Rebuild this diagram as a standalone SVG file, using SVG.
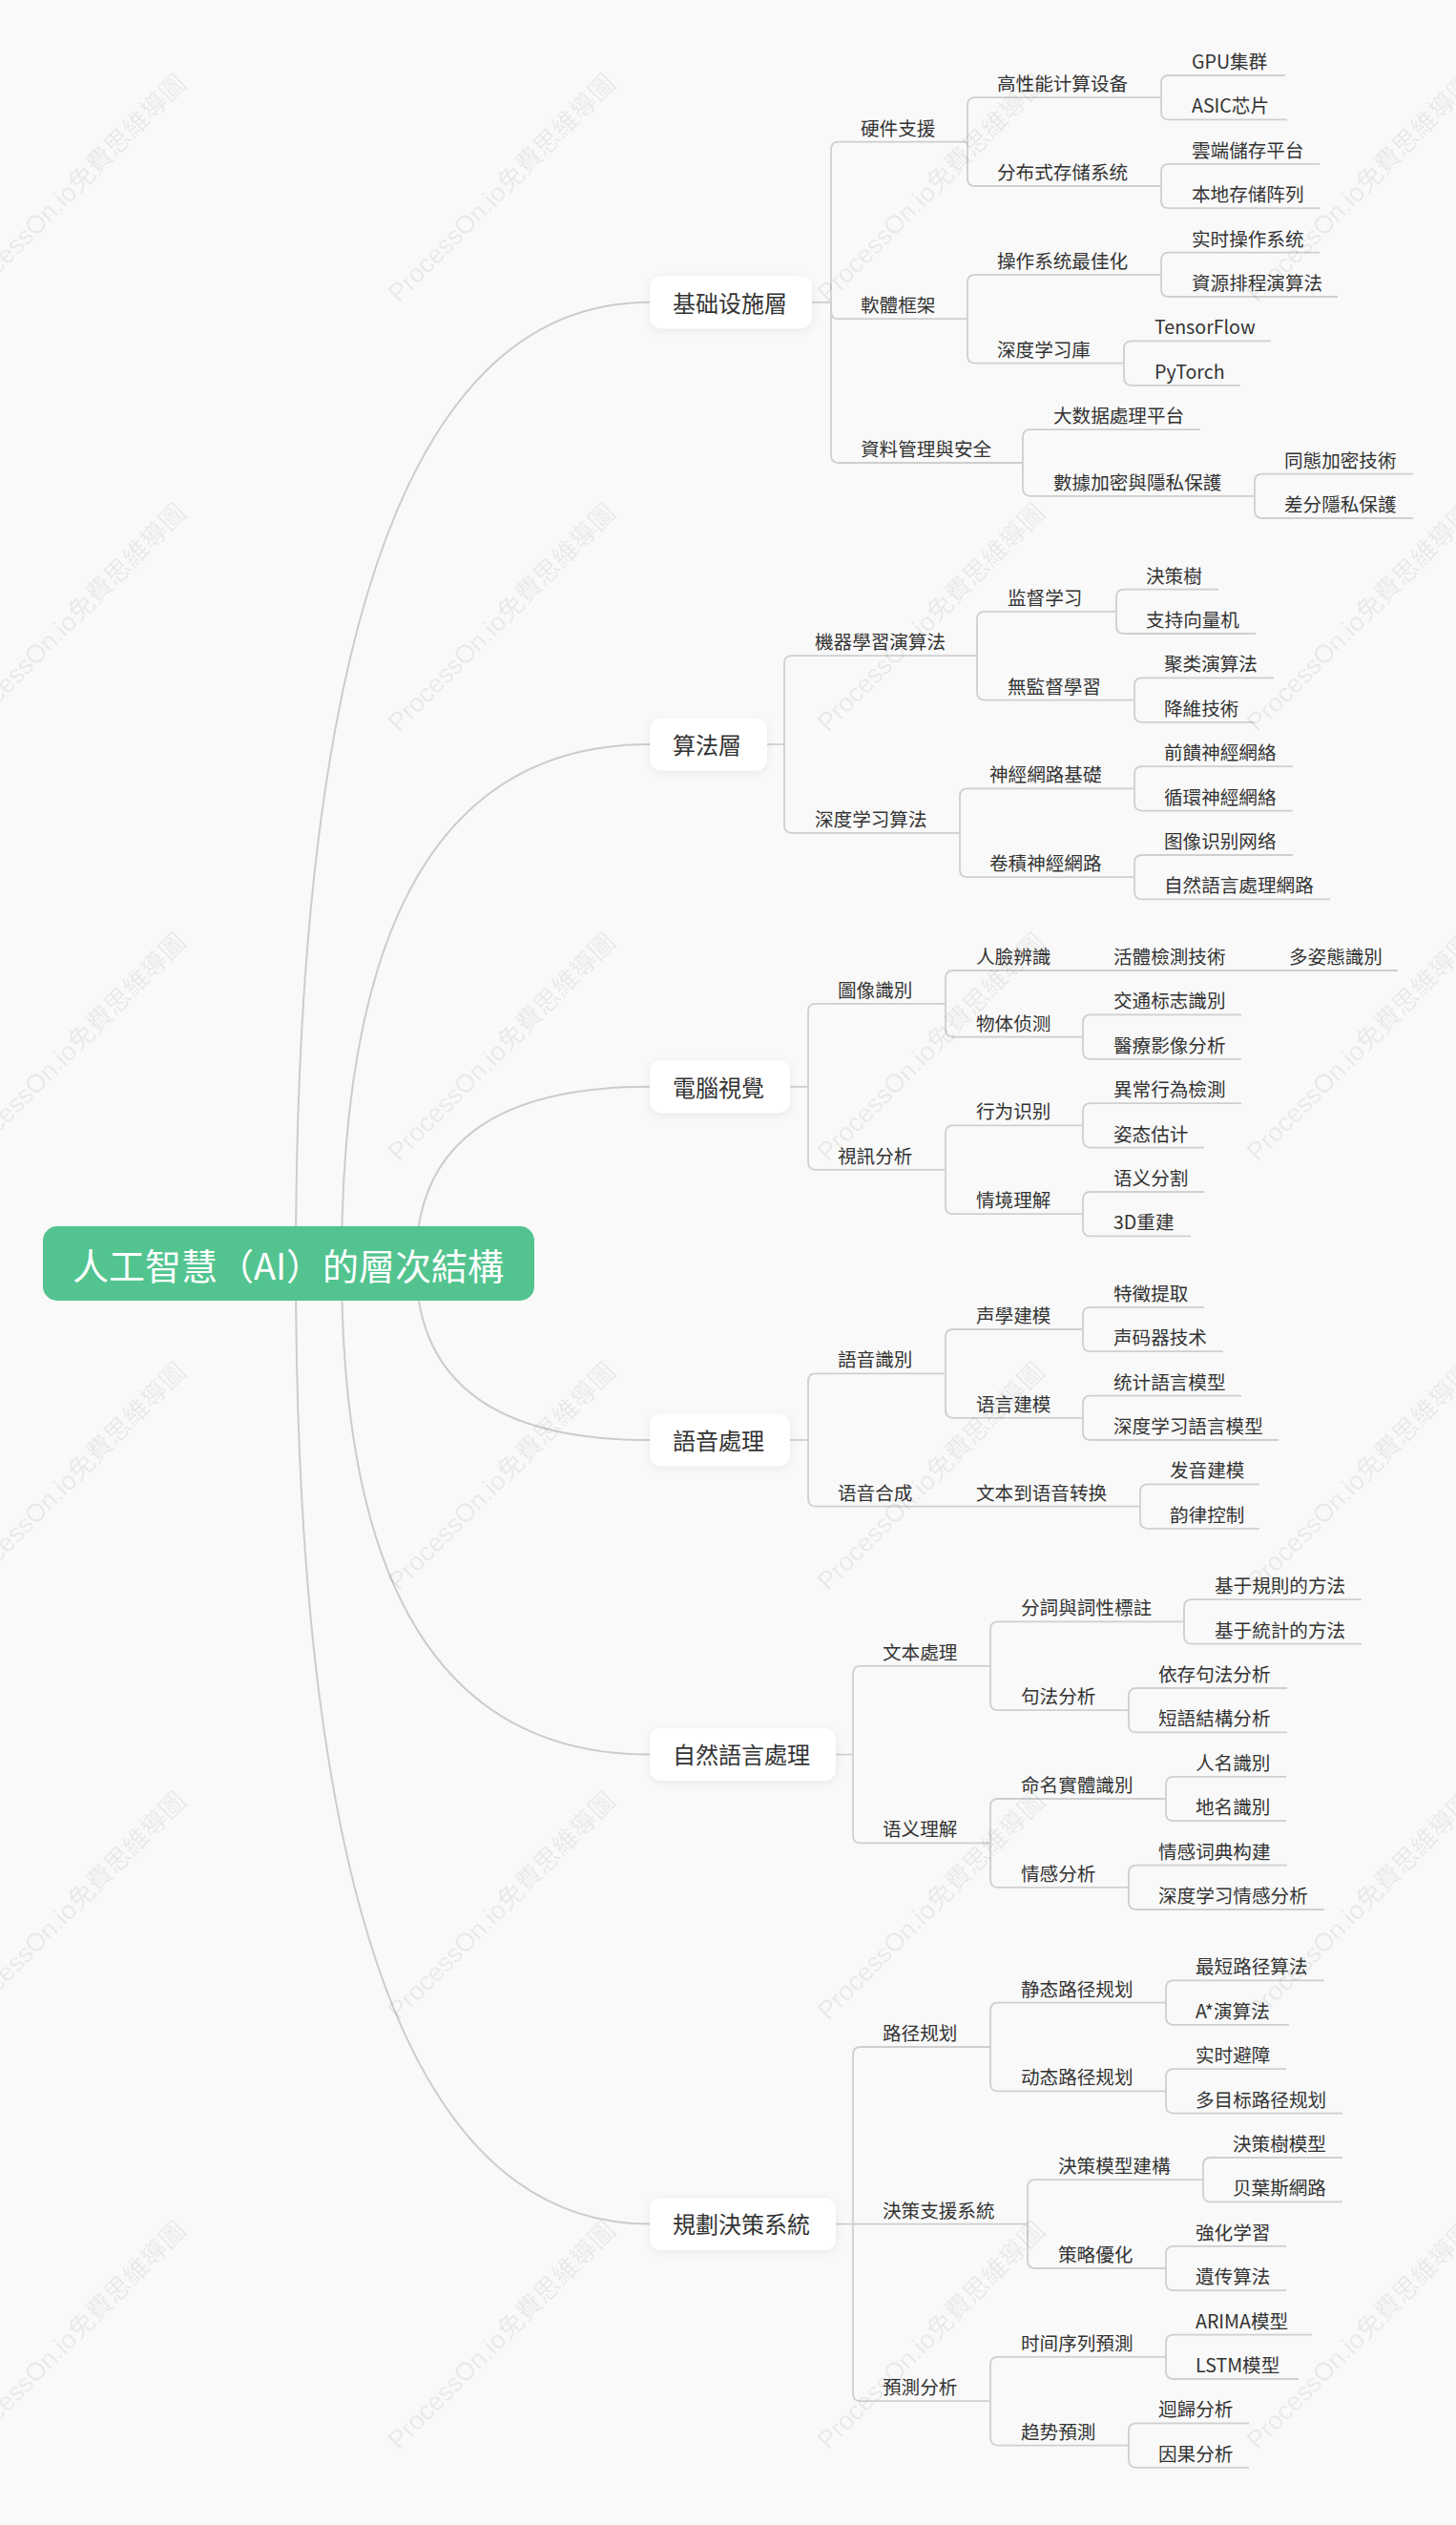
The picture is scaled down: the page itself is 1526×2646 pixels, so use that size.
<svg xmlns="http://www.w3.org/2000/svg" width="1526" height="2646" viewBox="0 0 1526 2646">
<defs>
<style>
.t{font-family:"Noto Sans CJK SC","Noto Sans CJK TC",sans-serif;font-size:19.6px;fill:#333}
.l1{font-family:"Noto Sans CJK SC","Noto Sans CJK TC",sans-serif;font-size:24px;fill:#333}
.rt{font-family:"Noto Sans CJK SC","Noto Sans CJK TC",sans-serif;font-size:38px;fill:#fff}
.c{fill:none;stroke:#cfcfcf;stroke-width:1.8}
.cv{fill:none;stroke:#cccccc;stroke-width:2}
.box{fill:#fff}
.wm{font-family:"Liberation Sans","Noto Sans CJK TC",sans-serif;font-size:27px;fill:#000;fill-opacity:0.075}
</style>
<filter id="sh" x="-20%" y="-30%" width="140%" height="160%">
<feDropShadow dx="0" dy="2" stdDeviation="4" flood-color="#000" flood-opacity="0.07"/>
</filter>
</defs>
<rect width="1526" height="2646" fill="#f9f9f9"/>
<g id="connectors">
<path class="cv" d="M310 1325 Q310 316.8 681 316.8"/>
<path class="cv" d="M358 1325 Q358 780 681 780"/>
<path class="cv" d="M436 1325 Q434 1138.8 681 1138.8"/>
<path class="cv" d="M436 1325 Q436 1509 681 1509"/>
<path class="cv" d="M358 1325 Q358 1838.6 681 1838.6"/>
<path class="cv" d="M310 1325 Q310 2330.6 681 2330.6"/>
<path class="c" d="M851 316.8 H871"/>
<path class="c" d="M871 316.8 V156.6 Q871 148.6 879 148.6 H1014"/>
<path class="c" d="M871 316.8 V326.2 Q871 334.2 879 334.2 H1014"/>
<path class="c" d="M871 316.8 V477 Q871 485 879 485 H1072"/>
<path class="c" d="M1014 148.6 V110.2 Q1014 102.2 1022 102.2 H1217"/>
<path class="c" d="M1014 148.6 V187 Q1014 195 1022 195 H1217"/>
<path class="c" d="M1217 102.2 V87 Q1217 79 1225 79 H1347"/>
<path class="c" d="M1217 102.2 V117.4 Q1217 125.4 1225 125.4 H1349"/>
<path class="c" d="M1217 195 V179.8 Q1217 171.8 1225 171.8 H1383"/>
<path class="c" d="M1217 195 V210.2 Q1217 218.2 1225 218.2 H1383"/>
<path class="c" d="M1014 334.2 V295.8 Q1014 287.8 1022 287.8 H1217"/>
<path class="c" d="M1014 334.2 V372.6 Q1014 380.6 1022 380.6 H1178"/>
<path class="c" d="M1217 287.8 V272.6 Q1217 264.6 1225 264.6 H1383"/>
<path class="c" d="M1217 287.8 V303 Q1217 311 1225 311 H1402"/>
<path class="c" d="M1178 380.6 V365.4 Q1178 357.4 1186 357.4 H1332"/>
<path class="c" d="M1178 380.6 V395.8 Q1178 403.8 1186 403.8 H1300"/>
<path class="c" d="M1072 485 V458.2 Q1072 450.2 1080 450.2 H1258"/>
<path class="c" d="M1072 485 V511.8 Q1072 519.8 1080 519.8 H1315"/>
<path class="c" d="M1315 519.8 V504.6 Q1315 496.6 1323 496.6 H1481"/>
<path class="c" d="M1315 519.8 V535 Q1315 543 1323 543 H1481"/>
<path class="c" d="M804 780 H822"/>
<path class="c" d="M822 780 V695.2 Q822 687.2 830 687.2 H1024"/>
<path class="c" d="M822 780 V864.8 Q822 872.8 830 872.8 H1006"/>
<path class="c" d="M1024 687.2 V648.8 Q1024 640.8 1032 640.8 H1170"/>
<path class="c" d="M1024 687.2 V725.6 Q1024 733.6 1032 733.6 H1189"/>
<path class="c" d="M1170 640.8 V625.6 Q1170 617.6 1178 617.6 H1277"/>
<path class="c" d="M1170 640.8 V656 Q1170 664 1178 664 H1316"/>
<path class="c" d="M1189 733.6 V718.4 Q1189 710.4 1197 710.4 H1335"/>
<path class="c" d="M1189 733.6 V748.8 Q1189 756.8 1197 756.8 H1315"/>
<path class="c" d="M1006 872.8 V834.4 Q1006 826.4 1014 826.4 H1189"/>
<path class="c" d="M1006 872.8 V911.2 Q1006 919.2 1014 919.2 H1189"/>
<path class="c" d="M1189 826.4 V811.2 Q1189 803.2 1197 803.2 H1355"/>
<path class="c" d="M1189 826.4 V841.6 Q1189 849.6 1197 849.6 H1355"/>
<path class="c" d="M1189 919.2 V904 Q1189 896 1197 896 H1355"/>
<path class="c" d="M1189 919.2 V934.4 Q1189 942.4 1197 942.4 H1394"/>
<path class="c" d="M828 1138.8 H847"/>
<path class="c" d="M847 1138.8 V1059.8 Q847 1051.8 855 1051.8 H991"/>
<path class="c" d="M847 1138.8 V1217.8 Q847 1225.8 855 1225.8 H991"/>
<path class="c" d="M991 1051.8 V1025 Q991 1017 999 1017 H1135"/>
<path class="c" d="M1135 1017 H1319"/>
<path class="c" d="M1319 1017 H1465"/>
<path class="c" d="M991 1051.8 V1078.6 Q991 1086.6 999 1086.6 H1135"/>
<path class="c" d="M1135 1086.6 V1071.4 Q1135 1063.4 1143 1063.4 H1301"/>
<path class="c" d="M1135 1086.6 V1101.8 Q1135 1109.8 1143 1109.8 H1301"/>
<path class="c" d="M991 1225.8 V1187.4 Q991 1179.4 999 1179.4 H1135"/>
<path class="c" d="M991 1225.8 V1264.2 Q991 1272.2 999 1272.2 H1135"/>
<path class="c" d="M1135 1179.4 V1164.2 Q1135 1156.2 1143 1156.2 H1301"/>
<path class="c" d="M1135 1179.4 V1194.6 Q1135 1202.6 1143 1202.6 H1262"/>
<path class="c" d="M1135 1272.2 V1257 Q1135 1249 1143 1249 H1262"/>
<path class="c" d="M1135 1272.2 V1287.4 Q1135 1295.4 1143 1295.4 H1248"/>
<path class="c" d="M828 1509 H847"/>
<path class="c" d="M847 1509 V1447.4 Q847 1439.4 855 1439.4 H991"/>
<path class="c" d="M847 1509 V1570.6 Q847 1578.6 855 1578.6 H991"/>
<path class="c" d="M991 1439.4 V1401 Q991 1393 999 1393 H1135"/>
<path class="c" d="M991 1439.4 V1477.8 Q991 1485.8 999 1485.8 H1135"/>
<path class="c" d="M1135 1393 V1377.8 Q1135 1369.8 1143 1369.8 H1262"/>
<path class="c" d="M1135 1393 V1408.2 Q1135 1416.2 1143 1416.2 H1282"/>
<path class="c" d="M1135 1485.8 V1470.6 Q1135 1462.6 1143 1462.6 H1301"/>
<path class="c" d="M1135 1485.8 V1501 Q1135 1509 1143 1509 H1340"/>
<path class="c" d="M991 1578.6 H1195"/>
<path class="c" d="M1195 1578.6 V1563.4 Q1195 1555.4 1203 1555.4 H1320"/>
<path class="c" d="M1195 1578.6 V1593.8 Q1195 1601.8 1203 1601.8 H1320"/>
<path class="c" d="M876 1838.6 H894"/>
<path class="c" d="M894 1838.6 V1753.8 Q894 1745.8 902 1745.8 H1038"/>
<path class="c" d="M894 1838.6 V1923.4 Q894 1931.4 902 1931.4 H1038"/>
<path class="c" d="M1038 1745.8 V1707.4 Q1038 1699.4 1046 1699.4 H1241"/>
<path class="c" d="M1038 1745.8 V1784.2 Q1038 1792.2 1046 1792.2 H1183"/>
<path class="c" d="M1241 1699.4 V1684.2 Q1241 1676.2 1249 1676.2 H1427"/>
<path class="c" d="M1241 1699.4 V1714.6 Q1241 1722.6 1249 1722.6 H1427"/>
<path class="c" d="M1183 1792.2 V1777 Q1183 1769 1191 1769 H1349"/>
<path class="c" d="M1183 1792.2 V1807.4 Q1183 1815.4 1191 1815.4 H1349"/>
<path class="c" d="M1038 1931.4 V1893 Q1038 1885 1046 1885 H1222"/>
<path class="c" d="M1038 1931.4 V1969.8 Q1038 1977.8 1046 1977.8 H1183"/>
<path class="c" d="M1222 1885 V1869.8 Q1222 1861.8 1230 1861.8 H1348"/>
<path class="c" d="M1222 1885 V1900.2 Q1222 1908.2 1230 1908.2 H1348"/>
<path class="c" d="M1183 1977.8 V1962.6 Q1183 1954.6 1191 1954.6 H1349"/>
<path class="c" d="M1183 1977.8 V1993 Q1183 2001 1191 2001 H1388"/>
<path class="c" d="M876 2330.6 H894"/>
<path class="c" d="M894 2330.6 V2153 Q894 2145 902 2145 H1038"/>
<path class="c" d="M894 2330.6 H1077"/>
<path class="c" d="M894 2330.6 V2508.2 Q894 2516.2 902 2516.2 H1038"/>
<path class="c" d="M1038 2145 V2106.6 Q1038 2098.6 1046 2098.6 H1222"/>
<path class="c" d="M1038 2145 V2183.4 Q1038 2191.4 1046 2191.4 H1222"/>
<path class="c" d="M1222 2098.6 V2083.4 Q1222 2075.4 1230 2075.4 H1388"/>
<path class="c" d="M1222 2098.6 V2113.8 Q1222 2121.8 1230 2121.8 H1351"/>
<path class="c" d="M1222 2191.4 V2176.2 Q1222 2168.2 1230 2168.2 H1348"/>
<path class="c" d="M1222 2191.4 V2206.6 Q1222 2214.6 1230 2214.6 H1407"/>
<path class="c" d="M1077 2330.6 V2292.2 Q1077 2284.2 1085 2284.2 H1261"/>
<path class="c" d="M1077 2330.6 V2369 Q1077 2377 1085 2377 H1222"/>
<path class="c" d="M1261 2284.2 V2269 Q1261 2261 1269 2261 H1407"/>
<path class="c" d="M1261 2284.2 V2299.4 Q1261 2307.4 1269 2307.4 H1407"/>
<path class="c" d="M1222 2377 V2361.8 Q1222 2353.8 1230 2353.8 H1348"/>
<path class="c" d="M1222 2377 V2392.2 Q1222 2400.2 1230 2400.2 H1348"/>
<path class="c" d="M1038 2516.2 V2477.8 Q1038 2469.8 1046 2469.8 H1222"/>
<path class="c" d="M1038 2516.2 V2554.6 Q1038 2562.6 1046 2562.6 H1183"/>
<path class="c" d="M1222 2469.8 V2454.6 Q1222 2446.6 1230 2446.6 H1375"/>
<path class="c" d="M1222 2469.8 V2485 Q1222 2493 1230 2493 H1361"/>
<path class="c" d="M1183 2562.6 V2547.4 Q1183 2539.4 1191 2539.4 H1309"/>
<path class="c" d="M1183 2562.6 V2577.8 Q1183 2585.8 1191 2585.8 H1309"/>
</g>
<g id="root">
<rect x="45" y="1285" width="515" height="78" rx="15" fill="#53c48f"/>
<text class="rt" x="302" y="1341" text-anchor="middle">人工智慧（AI）的層次結構</text>
</g>
<g id="n-infra"><rect class="box" filter="url(#sh)" x="681" y="289.3" width="170" height="55" rx="12"/><text class="l1" x="705" y="326.5">基础设施層</text></g>
<g id="n-hw"><text class="t" x="902" y="141.6">硬件支援</text></g>
<g id="n-hpc"><text class="t" x="1045" y="95.2">高性能计算设备</text></g>
<g id="n-gpu"><text class="t" x="1249" y="72">GPU集群</text></g>
<g id="n-asic"><text class="t" x="1249" y="118.4">ASIC芯片</text></g>
<g id="n-dist"><text class="t" x="1045" y="188">分布式存储系统</text></g>
<g id="n-cloud"><text class="t" x="1249" y="164.8">雲端儲存平台</text></g>
<g id="n-local"><text class="t" x="1249" y="211.2">本地存储阵列</text></g>
<g id="n-sw"><text class="t" x="902" y="327.2">軟體框架</text></g>
<g id="n-os"><text class="t" x="1045" y="280.8">操作系统最佳化</text></g>
<g id="n-rtos"><text class="t" x="1249" y="257.6">实时操作系统</text></g>
<g id="n-sched"><text class="t" x="1249" y="304">資源排程演算法</text></g>
<g id="n-dllib"><text class="t" x="1045" y="373.6">深度学习庫</text></g>
<g id="n-tf"><text class="t" x="1210" y="350.4">TensorFlow</text></g>
<g id="n-pt"><text class="t" x="1210" y="396.8">PyTorch</text></g>
<g id="n-data"><text class="t" x="902" y="478">資料管理與安全</text></g>
<g id="n-bigdata"><text class="t" x="1104" y="443.2">大数据處理平台</text></g>
<g id="n-enc"><text class="t" x="1104" y="512.8">數據加密與隱私保護</text></g>
<g id="n-he"><text class="t" x="1346" y="489.6">同態加密技術</text></g>
<g id="n-dp"><text class="t" x="1346" y="536">差分隱私保護</text></g>
<g id="n-algo"><rect class="box" filter="url(#sh)" x="681" y="752.5" width="123" height="55" rx="12"/><text class="l1" x="705" y="789.7">算法層</text></g>
<g id="n-ml"><text class="t" x="854" y="680.2">機器學習演算法</text></g>
<g id="n-sup"><text class="t" x="1056" y="633.8">监督学习</text></g>
<g id="n-dt"><text class="t" x="1201" y="610.6">決策樹</text></g>
<g id="n-svm"><text class="t" x="1201" y="657">支持向量机</text></g>
<g id="n-unsup"><text class="t" x="1056" y="726.6">無監督學習</text></g>
<g id="n-clu"><text class="t" x="1220" y="703.4">聚类演算法</text></g>
<g id="n-dim"><text class="t" x="1220" y="749.8">降維技術</text></g>
<g id="n-dl"><text class="t" x="854" y="865.8">深度学习算法</text></g>
<g id="n-nnb"><text class="t" x="1037" y="819.4">神經網路基礎</text></g>
<g id="n-ffn"><text class="t" x="1220" y="796.2">前饋神經網絡</text></g>
<g id="n-rnn"><text class="t" x="1220" y="842.6">循環神經網絡</text></g>
<g id="n-cnn"><text class="t" x="1037" y="912.2">卷積神經網路</text></g>
<g id="n-imgnet"><text class="t" x="1220" y="889">图像识别网络</text></g>
<g id="n-nlpnet"><text class="t" x="1220" y="935.4">自然語言處理網路</text></g>
<g id="n-cv"><rect class="box" filter="url(#sh)" x="681" y="1111.3" width="147" height="55" rx="12"/><text class="l1" x="705" y="1148.5">電腦視覺</text></g>
<g id="n-imgrec"><text class="t" x="878" y="1044.8">圖像識別</text></g>
<g id="n-face"><text class="t" x="1023" y="1010">人臉辨識</text></g>
<g id="n-live"><text class="t" x="1167" y="1010">活體檢測技術</text></g>
<g id="n-pose"><text class="t" x="1351" y="1010">多姿態識別</text></g>
<g id="n-obj"><text class="t" x="1023" y="1079.6">物体侦测</text></g>
<g id="n-traffic"><text class="t" x="1167" y="1056.4">交通标志識別</text></g>
<g id="n-med"><text class="t" x="1167" y="1102.8">醫療影像分析</text></g>
<g id="n-video"><text class="t" x="878" y="1218.8">視訊分析</text></g>
<g id="n-beh"><text class="t" x="1023" y="1172.4">行为识别</text></g>
<g id="n-abn"><text class="t" x="1167" y="1149.2">異常行為檢測</text></g>
<g id="n-est"><text class="t" x="1167" y="1195.6">姿态估计</text></g>
<g id="n-scene"><text class="t" x="1023" y="1265.2">情境理解</text></g>
<g id="n-seg"><text class="t" x="1167" y="1242">语义分割</text></g>
<g id="n-3d"><text class="t" x="1167" y="1288.4">3D重建</text></g>
<g id="n-speech"><rect class="box" filter="url(#sh)" x="681" y="1481.5" width="147" height="55" rx="12"/><text class="l1" x="705" y="1518.7">語音處理</text></g>
<g id="n-asr"><text class="t" x="878" y="1432.4">語音識別</text></g>
<g id="n-am"><text class="t" x="1023" y="1386">声學建模</text></g>
<g id="n-feat"><text class="t" x="1167" y="1362.8">特徵提取</text></g>
<g id="n-vocoder"><text class="t" x="1167" y="1409.2">声码器技术</text></g>
<g id="n-lm"><text class="t" x="1023" y="1478.8">语言建模</text></g>
<g id="n-slm"><text class="t" x="1167" y="1455.6">统计語言模型</text></g>
<g id="n-dlm"><text class="t" x="1167" y="1502">深度学习語言模型</text></g>
<g id="n-tts"><text class="t" x="878" y="1571.6">语音合成</text></g>
<g id="n-t2s"><text class="t" x="1023" y="1571.6">文本到语音转换</text></g>
<g id="n-pron"><text class="t" x="1226" y="1548.4">发音建模</text></g>
<g id="n-pros"><text class="t" x="1226" y="1594.8">韵律控制</text></g>
<g id="n-nlp"><rect class="box" filter="url(#sh)" x="681" y="1811.1" width="195" height="55" rx="12"/><text class="l1" x="705" y="1848.3">自然語言處理</text></g>
<g id="n-text"><text class="t" x="925" y="1738.8">文本處理</text></g>
<g id="n-seg2"><text class="t" x="1070" y="1692.4">分詞與詞性標註</text></g>
<g id="n-rule"><text class="t" x="1273" y="1669.2">基于規則的方法</text></g>
<g id="n-stat"><text class="t" x="1273" y="1715.6">基于統計的方法</text></g>
<g id="n-syn"><text class="t" x="1070" y="1785.2">句法分析</text></g>
<g id="n-dep"><text class="t" x="1214" y="1762">依存句法分析</text></g>
<g id="n-phr"><text class="t" x="1214" y="1808.4">短語結構分析</text></g>
<g id="n-sem"><text class="t" x="925" y="1924.4">语义理解</text></g>
<g id="n-ner"><text class="t" x="1070" y="1878">命名實體識別</text></g>
<g id="n-per"><text class="t" x="1253" y="1854.8">人名識別</text></g>
<g id="n-loc"><text class="t" x="1253" y="1901.2">地名識別</text></g>
<g id="n-senti"><text class="t" x="1070" y="1970.8">情感分析</text></g>
<g id="n-lex"><text class="t" x="1214" y="1947.6">情感词典构建</text></g>
<g id="n-dls"><text class="t" x="1214" y="1994">深度学习情感分析</text></g>
<g id="n-plan"><rect class="box" filter="url(#sh)" x="681" y="2303.1" width="195" height="55" rx="12"/><text class="l1" x="705" y="2340.3">規劃決策系統</text></g>
<g id="n-path"><text class="t" x="925" y="2138">路径规划</text></g>
<g id="n-static"><text class="t" x="1070" y="2091.6">静态路径规划</text></g>
<g id="n-short"><text class="t" x="1253" y="2068.4">最短路径算法</text></g>
<g id="n-astar"><text class="t" x="1253" y="2114.8">A*演算法</text></g>
<g id="n-dyn"><text class="t" x="1070" y="2184.4">动态路径规划</text></g>
<g id="n-avoid"><text class="t" x="1253" y="2161.2">实时避障</text></g>
<g id="n-multi"><text class="t" x="1253" y="2207.6">多目标路径规划</text></g>
<g id="n-dss"><text class="t" x="925" y="2323.6">決策支援系統</text></g>
<g id="n-dmb"><text class="t" x="1109" y="2277.2">決策模型建構</text></g>
<g id="n-dtm"><text class="t" x="1292" y="2254">決策樹模型</text></g>
<g id="n-bayes"><text class="t" x="1292" y="2300.4">贝葉斯網路</text></g>
<g id="n-opt"><text class="t" x="1109" y="2370">策略優化</text></g>
<g id="n-rl"><text class="t" x="1253" y="2346.8">強化学習</text></g>
<g id="n-ga"><text class="t" x="1253" y="2393.2">遺传算法</text></g>
<g id="n-pred"><text class="t" x="925" y="2509.2">預測分析</text></g>
<g id="n-ts"><text class="t" x="1070" y="2462.8">时间序列預測</text></g>
<g id="n-arima"><text class="t" x="1253" y="2439.6">ARIMA模型</text></g>
<g id="n-lstm"><text class="t" x="1253" y="2486">LSTM模型</text></g>
<g id="n-trend"><text class="t" x="1070" y="2555.6">趋势預測</text></g>
<g id="n-reg"><text class="t" x="1214" y="2532.4">迴歸分析</text></g>
<g id="n-cause"><text class="t" x="1214" y="2578.8">因果分析</text></g>
<g id="watermarks">
<text class="wm" x="76" y="206" text-anchor="middle" transform="rotate(-45 76 197)">ProcessOn.io免費思維導圖</text>
<text class="wm" x="526" y="206" text-anchor="middle" transform="rotate(-45 526 197)">ProcessOn.io免費思維導圖</text>
<text class="wm" x="976" y="206" text-anchor="middle" transform="rotate(-45 976 197)">ProcessOn.io免費思維導圖</text>
<text class="wm" x="1426" y="206" text-anchor="middle" transform="rotate(-45 1426 197)">ProcessOn.io免費思維導圖</text>
<text class="wm" x="76" y="656" text-anchor="middle" transform="rotate(-45 76 647)">ProcessOn.io免費思維導圖</text>
<text class="wm" x="526" y="656" text-anchor="middle" transform="rotate(-45 526 647)">ProcessOn.io免費思維導圖</text>
<text class="wm" x="976" y="656" text-anchor="middle" transform="rotate(-45 976 647)">ProcessOn.io免費思維導圖</text>
<text class="wm" x="1426" y="656" text-anchor="middle" transform="rotate(-45 1426 647)">ProcessOn.io免費思維導圖</text>
<text class="wm" x="76" y="1106" text-anchor="middle" transform="rotate(-45 76 1097)">ProcessOn.io免費思維導圖</text>
<text class="wm" x="526" y="1106" text-anchor="middle" transform="rotate(-45 526 1097)">ProcessOn.io免費思維導圖</text>
<text class="wm" x="976" y="1106" text-anchor="middle" transform="rotate(-45 976 1097)">ProcessOn.io免費思維導圖</text>
<text class="wm" x="1426" y="1106" text-anchor="middle" transform="rotate(-45 1426 1097)">ProcessOn.io免費思維導圖</text>
<text class="wm" x="76" y="1556" text-anchor="middle" transform="rotate(-45 76 1547)">ProcessOn.io免費思維導圖</text>
<text class="wm" x="526" y="1556" text-anchor="middle" transform="rotate(-45 526 1547)">ProcessOn.io免費思維導圖</text>
<text class="wm" x="976" y="1556" text-anchor="middle" transform="rotate(-45 976 1547)">ProcessOn.io免費思維導圖</text>
<text class="wm" x="1426" y="1556" text-anchor="middle" transform="rotate(-45 1426 1547)">ProcessOn.io免費思維導圖</text>
<text class="wm" x="76" y="2006" text-anchor="middle" transform="rotate(-45 76 1997)">ProcessOn.io免費思維導圖</text>
<text class="wm" x="526" y="2006" text-anchor="middle" transform="rotate(-45 526 1997)">ProcessOn.io免費思維導圖</text>
<text class="wm" x="976" y="2006" text-anchor="middle" transform="rotate(-45 976 1997)">ProcessOn.io免費思維導圖</text>
<text class="wm" x="1426" y="2006" text-anchor="middle" transform="rotate(-45 1426 1997)">ProcessOn.io免費思維導圖</text>
<text class="wm" x="76" y="2456" text-anchor="middle" transform="rotate(-45 76 2447)">ProcessOn.io免費思維導圖</text>
<text class="wm" x="526" y="2456" text-anchor="middle" transform="rotate(-45 526 2447)">ProcessOn.io免費思維導圖</text>
<text class="wm" x="976" y="2456" text-anchor="middle" transform="rotate(-45 976 2447)">ProcessOn.io免費思維導圖</text>
<text class="wm" x="1426" y="2456" text-anchor="middle" transform="rotate(-45 1426 2447)">ProcessOn.io免費思維導圖</text>
</g>
</svg>
